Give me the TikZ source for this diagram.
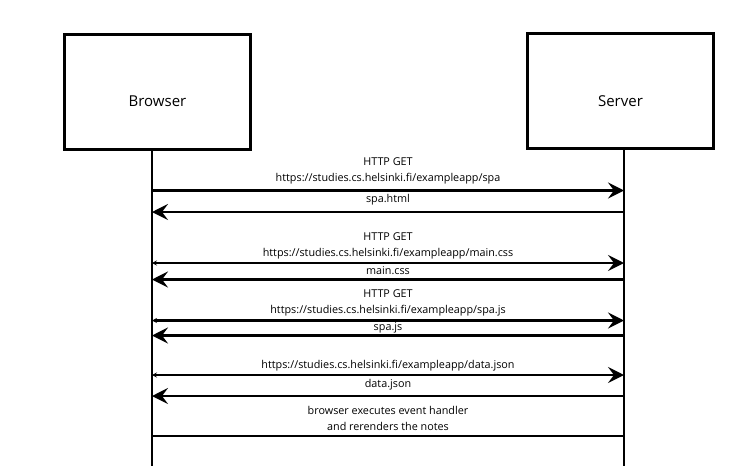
\documentclass[tikz,border=0pt]{standalone}
\usepackage{fontspec}
\setmainfont{Open Sans}
\usetikzlibrary{arrows.meta}
\begin{document}
\begin{tikzpicture}[x=1pt,y=-1pt,
  actor/.style={draw,line width=3pt,minimum width=186pt,minimum height=115pt,inner sep=0pt},
  actorname/.style={font=\fontsize{15}{18}\selectfont,inner sep=0pt},
  life/.style={line width=2pt},
  msg/.style={line width=2.2pt,-{Stealth[length=16pt,width=16pt,inset=6pt]}},
  req/.style={line width=2.2pt,{Stealth[length=5pt,width=5pt,inset=2pt]}-{Stealth[length=16pt,width=16pt,inset=6pt]}},
  lbl/.style={font=\fontsize{10.8}{13}\selectfont,inner sep=0pt,align=center}]
\useasboundingbox[fill=white] (0,0) rectangle (744,466);
\node[actor,label={[actorname,yshift=-10pt]center:Browser}] (browser) at (157.5,91.5) {};
\node[actor,label={[actorname,yshift=-10pt]center:Server}] (server) at (620.5,91) {};
\coordinate (bt) at (152,150);
\coordinate (bb) at (152,466);
\coordinate (st) at (624,150);
\coordinate (sb) at (624,466);
\draw[life] (bt) -- (bb);
\draw[life] (st) -- (sb);
% message 1
\coordinate (b1) at (152,190.5); \coordinate (s1) at (624,190.5);
\coordinate (b2) at (152,212); \coordinate (s2) at (624,212);
\draw[msg] (b1) -- (s1);
\draw[msg] (s2) -- (b2);
\node[lbl] (t1) at (388,171) {HTTP GET\\[3pt]https://studies.cs.helsinki.fi/exampleapp/spa};
\node[lbl] (t2) at (388,199.5) {spa.html};
% message 2
\coordinate (b3) at (152,263); \coordinate (s3) at (624,263);
\coordinate (b4) at (152,279.5); \coordinate (s4) at (624,279.5);
\draw[req] (b3) -- (s3);
\draw[msg] (s4) -- (b4);
\node[lbl] (t3) at (388,246) {HTTP GET\\[3pt]https://studies.cs.helsinki.fi/exampleapp/main.css};
\node[lbl] (t4) at (388,271) {main.css};
% message 3
\coordinate (b5) at (152,320.5); \coordinate (s5) at (624,320.5);
\coordinate (b6) at (152,335.5); \coordinate (s6) at (624,335.5);
\draw[req] (b5) -- (s5);
\draw[msg] (s6) -- (b6);
\node[lbl] (t5) at (388,303) {HTTP GET\\[3pt]https://studies.cs.helsinki.fi/exampleapp/spa.js};
\node[lbl] (t6) at (388,328) {spa.js};
% message 4
\coordinate (b7) at (152,375); \coordinate (s7) at (624,375);
\coordinate (b8) at (152,396); \coordinate (s8) at (624,396);
\draw[req] (b7) -- (s7);
\draw[msg] (s8) -- (b8);
\node[lbl] (t7) at (388,365.5) {https://studies.cs.helsinki.fi/exampleapp/data.json};
\node[lbl] (t8) at (388,385) {data.json};
% event handler
\coordinate (b9) at (152,436); \coordinate (s9) at (624,436);
\draw[life] (b9) -- (s9);
\node[lbl] (t9) at (388,418.5) {browser executes event handler\\[3pt]and rerenders the notes};
\end{tikzpicture}
\end{document}
